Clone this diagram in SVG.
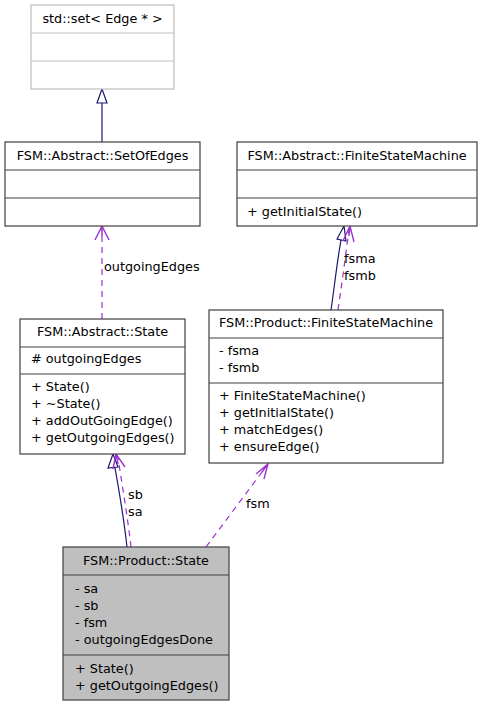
<svg xmlns="http://www.w3.org/2000/svg" width="483" height="707" viewBox="0 0 483 707">
<style>
text{font-family:"DejaVu Sans","Liberation Sans",sans-serif;font-size:12.8px;fill:#000}
.c{text-anchor:middle}
.box{fill:#fff;stroke:#404040;stroke-width:1.2}
.gbox{fill:#fff;stroke:#bfbfbf;stroke-width:1.2}
.cur{fill:#bfbfbf;stroke:#404040;stroke-width:1.2}
.inh{fill:none;stroke:#191970;stroke-width:1.2}
.tri{fill:#fff;stroke:#191970;stroke-width:1.2}
.use{fill:none;stroke:#9a32cd;stroke-width:1.2;stroke-dasharray:6,5}
.vee{fill:none;stroke:#9a32cd;stroke-width:1.4}
</style>
<rect width="483" height="707" fill="#fff"/>
<g id="connectors">
  <path class="inh" d="M102,142 L102,103"/>
  <polygon class="tri" points="102,89 97,103 107,103"/>
  <path class="use" d="M102,319 L102,230"/>
  <path class="vee" d="M95,240 L102,226 L109,240 M102,226 L102,236"/>
  <text x="104" y="271">outgoingEdges</text>
  <path class="inh" d="M331,310 C334,290 337,262 341,240"/>
  <polygon class="tri" points="344,226 337,239 346,241"/>
  <path class="use" d="M338,310 C341,290 345,260 349,230"/>
  <path class="vee" d="M343,241 L350,226 L354,242 M350,226 L349,236"/>
  <text x="344" y="263">fsma</text>
  <text x="344" y="280">fsmb</text>
  <path class="inh" d="M127,547 C124,520 119,490 115,468"/>
  <polygon class="tri" points="113,454 108,468 118,467"/>
  <path class="use" d="M131,547 C128,520 123,490 118,458"/>
  <path class="vee" d="M113,469 L116,454 L125,467 M116,454 L118,464"/>
  <text x="128" y="499">sb</text>
  <text x="128" y="516">sa</text>
  <path class="use" d="M206,547 L265,468"/>
  <path class="vee" d="M256,474 L268,464 L264,479 M268,464 L262,472"/>
  <text x="246" y="508">fsm</text>
</g>
<g id="std_set">
  <rect class="gbox" x="31" y="5" width="143" height="84"/>
  <line class="gbox" x1="31" y1="33" x2="174" y2="33"/>
  <line class="gbox" x1="31" y1="61" x2="174" y2="61"/>
  <text class="c" x="102.5" y="23">std::set&lt; Edge * &gt;</text>
</g>
<g id="SetOfEdges">
  <rect class="box" x="5" y="142" width="195" height="84"/>
  <line class="box" x1="5" y1="170" x2="200" y2="170"/>
  <line class="box" x1="5" y1="198" x2="200" y2="198"/>
  <text class="c" x="102.5" y="160">FSM::Abstract::SetOfEdges</text>
</g>
<g id="AbstractFSM">
  <rect class="box" x="237" y="142" width="240" height="84"/>
  <line class="box" x1="237" y1="170" x2="477" y2="170"/>
  <line class="box" x1="237" y1="198" x2="477" y2="198"/>
  <text class="c" x="357" y="160">FSM::Abstract::FiniteStateMachine</text>
  <text x="247" y="216">+ getInitialState()</text>
</g>
<g id="AbstractState">
  <rect class="box" x="20" y="319" width="165" height="135"/>
  <line class="box" x1="20" y1="347" x2="185" y2="347"/>
  <line class="box" x1="20" y1="374" x2="185" y2="374"/>
  <text class="c" x="102.5" y="336">FSM::Abstract::State</text>
  <text x="31" y="363"># outgoingEdges</text>
  <text x="31" y="391">+ State()</text>
  <text x="31" y="408">+ ~State()</text>
  <text x="31" y="425">+ addOutGoingEdge()</text>
  <text x="31" y="442">+ getOutgoingEdges()</text>
</g>
<g id="ProductFSM">
  <rect class="box" x="209" y="310" width="234" height="153"/>
  <line class="box" x1="209" y1="338" x2="443" y2="338"/>
  <line class="box" x1="209" y1="383" x2="443" y2="383"/>
  <text class="c" x="326" y="327">FSM::Product::FiniteStateMachine</text>
  <text x="219" y="355">- fsma</text>
  <text x="219" y="372">- fsmb</text>
  <text x="219" y="400">+ FiniteStateMachine()</text>
  <text x="219" y="417">+ getInitialState()</text>
  <text x="219" y="434">+ matchEdges()</text>
  <text x="219" y="451">+ ensureEdge()</text>
</g>
<g id="ProductState">
  <rect class="cur" x="63" y="547" width="166" height="153"/>
  <line class="cur" x1="63" y1="575" x2="229" y2="575"/>
  <line class="cur" x1="63" y1="655" x2="229" y2="655"/>
  <text class="c" x="146" y="565">FSM::Product::State</text>
  <text x="75" y="593">- sa</text>
  <text x="75" y="610">- sb</text>
  <text x="75" y="627">- fsm</text>
  <text x="75" y="644">- outgoingEdgesDone</text>
  <text x="75" y="673">+ State()</text>
  <text x="75" y="690">+ getOutgoingEdges()</text>
</g>
</svg>
